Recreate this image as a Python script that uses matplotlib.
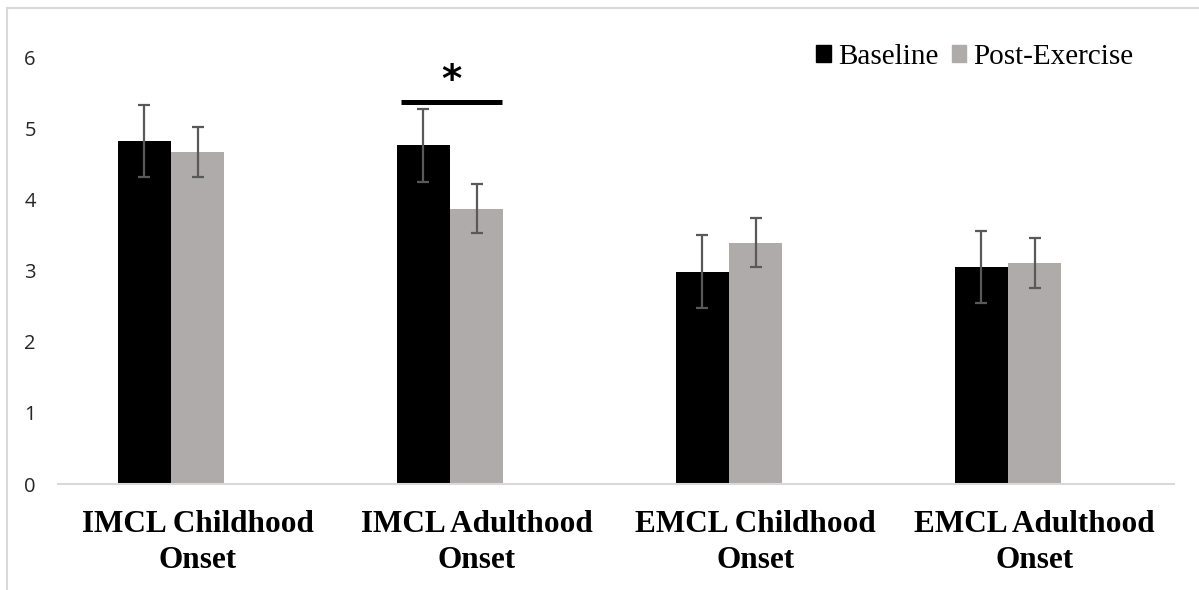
import numpy as np
import matplotlib.pyplot as plt
from matplotlib.patches import Patch
from matplotlib.lines import Line2D

categories = ["IMCL Childhood\nOnset", "IMCL Adulthood\nOnset",
              "EMCL Childhood\nOnset", "EMCL Adulthood\nOnset"]
baseline = [4.83, 4.77, 2.99, 3.06]
baseline_err = [0.51, 0.51, 0.51, 0.51]
post_exercise = [4.68, 3.88, 3.40, 3.11]
post_exercise_err = [0.35, 0.34, 0.34, 0.35]

fig = plt.figure(figsize=(11.99, 5.90), dpi=100)
ax = fig.add_axes([58/1199, 1 - 484/590, (1174 - 58)/1199, (484 - 58)/590])

x = np.arange(len(categories))
w = 0.19
err_kw = dict(ecolor='#595959', elinewidth=1.6, capsize=4.3, capthick=1.6)
ax.bar(x - w, baseline, w, color='#000000', yerr=baseline_err, error_kw=err_kw, zorder=2)
ax.bar(x, post_exercise, w, color='#AFABAB', yerr=post_exercise_err, error_kw=err_kw, zorder=2)

ax.set_xlim(-0.5, 3.5)
ax.set_ylim(0, 6)
ax.set_yticks(range(0, 7))
ax.set_xticks(x)
ax.set_xticklabels(categories, fontfamily='Liberation Serif', fontweight='bold',
                   fontsize=22.5, linespacing=1.3)
ax.tick_params(axis='x', length=0, pad=19)
ax.tick_params(axis='y', length=0, pad=16, labelsize=14.5, labelcolor='#262626')
for lab in ax.get_yticklabels():
    lab.set_fontfamily('Open Sans')
for side in ['top', 'right', 'left']:
    ax.spines[side].set_visible(False)
ax.spines['bottom'].set_color('#d9d9d9')
ax.spines['bottom'].set_linewidth(1.5)

# significance marker
ax.plot([0.73, 1.09], [5.38, 5.38], color='black', lw=3.6, solid_capstyle='butt', clip_on=False)
ax.text(0.91, 5.68, '*', ha='center', va='center', fontsize=28, fontweight='bold',
        fontfamily='DejaVu Sans')

handles = [Patch(color='#000000'), Patch(color='#AFABAB')]
fig.legend(handles, ['Baseline', 'Post-Exercise'], loc='center', ncol=2,
           bbox_to_anchor=(975/1199, 1 - 57/590), frameon=False,
           prop={'family': 'Liberation Serif', 'size': 21},
           handlelength=0.5, handleheight=0.5, handletextpad=0.25,
           columnspacing=0.45, borderpad=0)

# outer chart border
fig.add_artist(Line2D([7/1199, 1], [1 - 8/590, 1 - 8/590], color='#d9d9d9', lw=1.5))
fig.add_artist(Line2D([7/1199, 7/1199], [0, 1 - 8/590], color='#d9d9d9', lw=1.5))

fig.savefig('out.png', dpi=100)
